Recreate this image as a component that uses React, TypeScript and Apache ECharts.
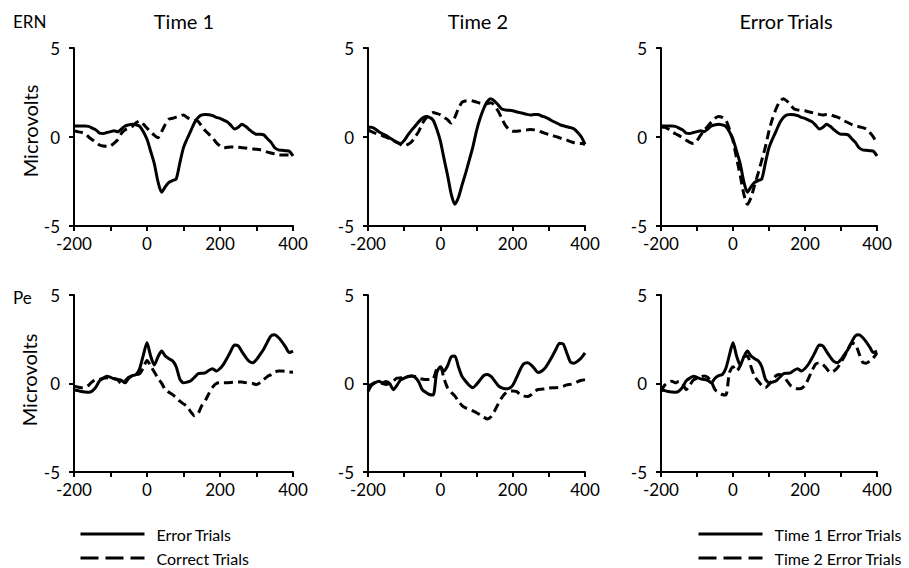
import React, { useEffect, useRef } from 'react';
import * as echarts from 'echarts';

// Time in ms (sampling grid shared by all waveforms)
const TIME_MS = [
  -200, -190, -180, -170, -160, -150, -140, -130, -120, -110,
  -100, -90, -80, -70, -60, -50, -40, -30, -20, -10,
  0, 10, 20, 30, 40, 50, 60, 70, 80, 90,
  100, 110, 120, 130, 140, 150, 160, 170, 180, 190,
  200, 210, 220, 230, 240, 250, 260, 270, 280, 290,
  300, 310, 320, 330, 340, 350, 360, 370, 380, 390,
  400,
];

// ERN, Time 1
const ERN_T1_ERROR = [
  0.62, 0.62, 0.62, 0.62, 0.6, 0.5, 0.4, 0.22, 0.2, 0.25,
  0.3, 0.35, 0.3, 0.45, 0.62, 0.68, 0.72, 0.68, 0.6, 0.3,
  -0.13, -0.8, -1.5, -2.5, -3.1, -2.8, -2.55, -2.45, -2.35, -1.45,
  -0.6, -0.1, 0.35, 0.8, 1.1, 1.24, 1.27, 1.25, 1.2, 1.1,
  1.05, 0.95, 0.85, 0.65, 0.45, 0.55, 0.72, 0.6, 0.42, 0.25,
  0.15, 0.15, 0.12, -0.1, -0.3, -0.6, -0.72, -0.75, -0.77, -0.8,
  -1.07,
];
const ERN_T1_CORRECT = [
  0.34, 0.3, 0.26, 0.2, 0.0, -0.15, -0.3, -0.45, -0.51, -0.52,
  -0.5, -0.35, -0.15, 0.2, 0.4, 0.5, 0.6, 0.8, 0.9, 0.72,
  0.5, 0.3, 0.1, -0.04, 0.3, 0.7, 1.0, 1.05, 1.12, 1.18,
  1.24, 1.1, 0.98, 0.93, 0.88, 0.6, 0.35, 0.15, -0.05, -0.32,
  -0.5, -0.6, -0.58, -0.56, -0.57, -0.58, -0.6, -0.62, -0.65, -0.67,
  -0.69, -0.72, -0.78, -0.85, -0.9, -0.95, -1.0, -1.01, -1.01, -1.02,
  -1.12,
];

// ERN, Time 2
const ERN_T2_ERROR = [
  0.55, 0.55, 0.45, 0.3, 0.18, 0.08, -0.05, -0.18, -0.3, -0.37,
  -0.2, 0.1, 0.37, 0.6, 0.85, 1.05, 1.15, 1.1, 0.95, 0.45,
  -0.22, -1.2, -2.15, -3.2, -3.78, -3.4, -2.7, -2.03, -1.3, -0.55,
  0.35, 1.05, 1.6, 2.0, 2.15, 2.02, 1.8, 1.57, 1.52, 1.5,
  1.47, 1.42, 1.37, 1.32, 1.27, 1.24, 1.26, 1.26, 1.18, 1.12,
  1.02, 0.9, 0.8, 0.7, 0.63, 0.58, 0.53, 0.45, 0.25, 0.0,
  -0.41,
];
const ERN_T2_CORRECT = [
  0.38, 0.3, 0.22, 0.15, 0.07, 0.0, -0.1, -0.2, -0.3, -0.42,
  -0.51, -0.42, -0.28, 0.0, 0.3, 0.75, 1.05, 1.25, 1.37, 1.32,
  1.25, 1.1, 0.97, 0.78, 1.1, 1.6, 1.95, 2.03, 2.06, 2.02,
  1.96, 1.9, 1.85, 1.88, 1.92, 1.75, 1.45, 1.05, 0.65, 0.42,
  0.32, 0.32, 0.35, 0.38, 0.4, 0.42, 0.4, 0.35, 0.28, 0.2,
  0.14, 0.08, 0.02, -0.05, -0.12, -0.18, -0.26, -0.32, -0.35, -0.37,
  -0.41,
];

// Pe, Time 1
const PE_T1_ERROR = [
  -0.35, -0.4, -0.45, -0.48, -0.5, -0.42, -0.2, 0.15, 0.3, 0.41,
  0.35, 0.26, 0.23, 0.18, 0.04, 0.3, 0.45, 0.5, 0.85, 1.6,
  2.3, 1.55, 1.05, 1.5, 1.83, 1.55, 1.4, 1.28, 0.95, 0.25,
  0.04, 0.08, 0.15, 0.35, 0.55, 0.58, 0.6, 0.75, 0.83, 0.7,
  0.85, 1.1, 1.45, 1.85, 2.18, 2.12, 1.8, 1.5, 1.25, 1.17,
  1.35, 1.65, 1.95, 2.35, 2.7, 2.75, 2.6, 2.35, 2.05, 1.75,
  1.83,
];
const PE_T1_CORRECT = [
  -0.15, -0.2, -0.24, -0.22, -0.1, 0.1, 0.2, 0.23, 0.3, 0.32,
  0.3, 0.28, 0.2, 0.0, 0.15, 0.35, 0.45, 0.5, 0.55, 0.9,
  1.3, 1.0, 0.65, 0.3, 0.02, -0.35, -0.5, -0.63, -0.8, -1.0,
  -1.15, -1.3, -1.6, -1.82, -1.7, -1.25, -0.95, -0.55, -0.2, 0.0,
  0.04, 0.04, 0.04, 0.06, 0.08, 0.08, 0.08, 0.05, 0.02, 0.0,
  -0.06, 0.05, 0.23, 0.4, 0.5, 0.65, 0.7, 0.7, 0.68, 0.65,
  0.64,
];

// Pe, Time 2
const PE_T2_ERROR = [
  -0.45, -0.1, 0.05, 0.13, 0.04, 0.12, 0.0, -0.35, -0.1, 0.2,
  0.3, 0.38, 0.42, 0.35, 0.1, -0.35, -0.5, -0.62, -0.65, 0.6,
  0.95, 0.7, 1.0, 1.5, 1.55, 0.95, 0.4, 0.13, -0.1, -0.24,
  -0.05, 0.2, 0.45, 0.51, 0.4, 0.15, -0.12, -0.25, -0.3, -0.27,
  -0.1, 0.3, 0.75, 1.1, 1.17, 1.07, 0.85, 0.62, 0.7, 0.88,
  1.2, 1.55, 1.95, 2.28, 2.22, 1.7, 1.2, 1.15, 1.27, 1.45,
  1.73,
];
const PE_T2_CORRECT = [
  -0.15, -0.05, 0.05, 0.05, 0.0, -0.05, 0.0, 0.15, 0.3, 0.32,
  0.35, 0.4, 0.42, 0.4, 0.3, 0.25, 0.22, 0.22, 0.25, 0.8,
  0.95, 0.3, -0.25, -0.5, -0.7, -1.0, -1.25, -1.38, -1.45, -1.55,
  -1.65, -1.78, -1.9, -2.0, -1.88, -1.55, -1.15, -0.8, -0.55, -0.43,
  -0.43, -0.45, -0.6, -0.7, -0.74, -0.65, -0.45, -0.34, -0.32, -0.3,
  -0.26, -0.24, -0.24, -0.22, -0.15, -0.08, -0.05, 0.0, 0.1, 0.18,
  0.22,
];

const COLUMN_TITLES = ['Time 1', 'Time 2', 'Error Trials'];
const ROW_LABELS = ['ERN', 'Pe'];
const Y_AXIS_TITLE = 'Microvolts';
const LEGEND_CONDITION = ['Error Trials', 'Correct Trials'];
const LEGEND_TIME = ['Time 1 Error Trials', 'Time 2 Error Trials'];
const X_MIN = -200;
const X_MAX = 400;
const X_TICK_STEP = 100;
const X_LABEL_STEP = 200;
const Y_MIN = -5;
const Y_MAX = 5;
const Y_TICK_STEP = 5;

const FONT = 'Lato, "Open Sans", sans-serif';
const BLACK = '#000';

// Layout (pixels)
const GRID_LEFT = [74, 368, 661];
const GRID_WIDTH = [219, 217, 216];
const GRID_TOP = [48, 295];
const GRID_HEIGHT = [178, 177];
const TITLE_X = [184, 478, 786];

const SOLID_STYLE = { color: BLACK, width: 3, type: 'solid' as const };
const DASHED_STYLE = { color: BLACK, width: 3, type: [9, 5] as number[] };
const HIDDEN_SYMBOL = { color: 'rgba(0,0,0,0)', borderColor: 'rgba(0,0,0,0)', borderWidth: 0, opacity: 0 };

export default function App() {
  const ref = useRef<HTMLDivElement>(null);

  useEffect(() => {
    if (!ref.current) return;
    const chart = echarts.init(ref.current, undefined, { renderer: 'svg' });

    const panels = [
      { row: 0, col: 0, solid: [LEGEND_CONDITION[0], ERN_T1_ERROR], dashed: [LEGEND_CONDITION[1], ERN_T1_CORRECT] },
      { row: 0, col: 1, solid: [LEGEND_CONDITION[0], ERN_T2_ERROR], dashed: [LEGEND_CONDITION[1], ERN_T2_CORRECT] },
      { row: 0, col: 2, solid: [LEGEND_TIME[0], ERN_T1_ERROR], dashed: [LEGEND_TIME[1], ERN_T2_ERROR] },
      { row: 1, col: 0, solid: [LEGEND_CONDITION[0], PE_T1_ERROR], dashed: [LEGEND_CONDITION[1], PE_T1_CORRECT] },
      { row: 1, col: 1, solid: [LEGEND_CONDITION[0], PE_T2_ERROR], dashed: [LEGEND_CONDITION[1], PE_T2_CORRECT] },
      { row: 1, col: 2, solid: [LEGEND_TIME[0], PE_T1_ERROR], dashed: [LEGEND_TIME[1], PE_T2_ERROR] },
    ] as { row: number; col: number; solid: [string, number[]]; dashed: [string, number[]] }[];

    const grid = panels.map((p) => ({
      left: GRID_LEFT[p.col],
      top: GRID_TOP[p.row],
      width: GRID_WIDTH[p.col],
      height: GRID_HEIGHT[p.row],
      containLabel: false,
    }));

    const xAxis = panels.map((_, i) => ({
      gridIndex: i,
      type: 'value',
      min: X_MIN,
      max: X_MAX,
      interval: X_TICK_STEP,
      axisLine: { show: true, onZero: false, lineStyle: { color: BLACK, width: 2 } },
      axisTick: { show: true, inside: false, length: 5, lineStyle: { color: BLACK, width: 2 } },
      axisLabel: {
        formatter: (v: number) => (v % X_LABEL_STEP === 0 ? String(v) : ''),
        fontFamily: FONT,
        fontSize: 17,
        color: BLACK,
        margin: 9,
      },
      splitLine: { show: false },
    }));

    const yAxis = panels.map((_, i) => ({
      gridIndex: i,
      type: 'value',
      min: Y_MIN,
      max: Y_MAX,
      interval: Y_TICK_STEP,
      axisLine: { show: true, onZero: false, lineStyle: { color: BLACK, width: 2 } },
      axisTick: { show: true, inside: false, length: 5, lineStyle: { color: BLACK, width: 2 } },
      axisLabel: { fontFamily: FONT, fontSize: 17, color: BLACK, margin: 14 },
      splitLine: { show: false },
    }));

    const series: any[] = [];
    panels.forEach((p, i) => {
      [
        { def: p.dashed, style: DASHED_STYLE },
        { def: p.solid, style: SOLID_STYLE },
      ].forEach(({ def, style }) => {
        series.push({
          type: 'line',
          name: def[0],
          xAxisIndex: i,
          yAxisIndex: i,
          data: TIME_MS.map((t, k) => [t, def[1][k]]),
          symbol: 'none',
          showSymbol: false,
          smooth: 0.25,
          lineStyle: style,
          itemStyle: { color: BLACK },
          emphasis: { disabled: true },
          z: style === SOLID_STYLE ? 3 : 2,
        });
      });
    });

    const legendBase = {
      orient: 'vertical',
      top: 526,
      padding: 0,
      itemWidth: 64,
      itemHeight: 14,
      itemGap: 8,
      selectedMode: false,
      itemStyle: HIDDEN_SYMBOL,
      textStyle: { fontFamily: FONT, fontSize: 16, color: BLACK, lineHeight: 14, padding: [0, 0, 0, 7] },
    };

    const graphic: any[] = [];
    COLUMN_TITLES.forEach((t, i) => {
      graphic.push({
        type: 'text',
        x: TITLE_X[i],
        y: 21,
        style: { text: t, fontFamily: FONT, fontSize: 20, fill: BLACK, align: 'center', verticalAlign: 'middle' },
      });
    });
    graphic.push({
      type: 'text',
      x: 13,
      y: 21,
      style: { text: ROW_LABELS[0], fontFamily: FONT, fontSize: 17, fill: BLACK, align: 'left', verticalAlign: 'middle' },
    });
    graphic.push({
      type: 'text',
      x: 13,
      y: 297,
      style: { text: ROW_LABELS[1], fontFamily: FONT, fontSize: 17, fill: BLACK, align: 'left', verticalAlign: 'middle' },
    });
    [
      [30, 131],
      [29, 380],
    ].forEach(([x, y]) => {
      graphic.push({
        type: 'text',
        x,
        y,
        rotation: Math.PI / 2,
        style: { text: Y_AXIS_TITLE, fontFamily: FONT, fontSize: 20, fill: BLACK, align: 'center', verticalAlign: 'middle' },
      });
    });

    chart.setOption({
      animation: false,
      backgroundColor: '#fff',
      grid,
      xAxis,
      yAxis,
      series,
      legend: [
        {
          ...legendBase,
          left: 79,
          data: [
            { name: LEGEND_CONDITION[0], itemStyle: HIDDEN_SYMBOL, lineStyle: { ...SOLID_STYLE } },
            { name: LEGEND_CONDITION[1], itemStyle: HIDDEN_SYMBOL, lineStyle: { color: BLACK, width: 3, type: [18, 7] } },
          ],
        },
        {
          ...legendBase,
          left: 697,
          data: [
            { name: LEGEND_TIME[0], itemStyle: HIDDEN_SYMBOL, lineStyle: { ...SOLID_STYLE } },
            { name: LEGEND_TIME[1], itemStyle: HIDDEN_SYMBOL, lineStyle: { color: BLACK, width: 3, type: [18, 7] } },
          ],
        },
      ],
      graphic,
    });

    return () => chart.dispose();
  }, []);

  return (
    <div
      ref={ref}
      style={{ position: 'fixed', left: 0, top: 0, width: 909, height: 568, background: '#fff' }}
    />
  );
}
